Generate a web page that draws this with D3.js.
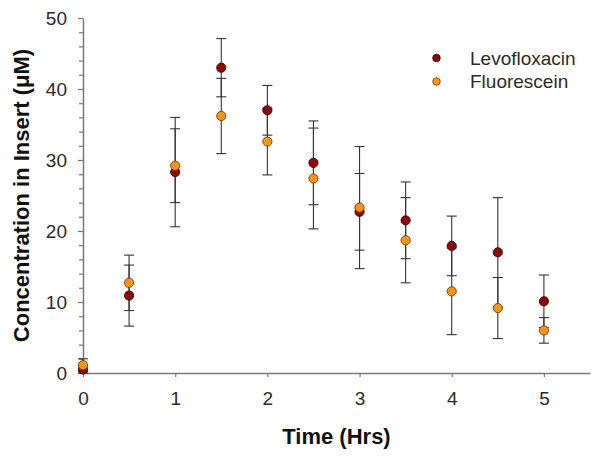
<!DOCTYPE html>
<html><head><meta charset="utf-8">
<script src="https://cdn.jsdelivr.net/npm/d3@7"></script>
<style>
html,body{margin:0;padding:0;background:#fff;}
svg{display:block;font-family:"Liberation Sans",Arial,sans-serif;}
</style></head>
<body><svg id="c" width="600" height="458"></svg>
<script>
const times = [0, 0.5, 1, 1.5, 2, 2.5, 3, 3.5, 4, 4.5, 5];
const levoMean = [0.5, 10.9, 28.3, 43.0, 37.0, 29.6, 22.7, 21.5, 17.9, 17.0, 10.1];
const levoErr  = [0.5, 4.3, 7.7, 4.1, 3.5, 5.9, 5.4, 5.4, 4.2, 7.7, 3.7];
const fluoMean = [1.1, 12.7, 29.2, 36.2, 32.6, 27.4, 23.3, 18.7, 11.5, 9.15, 6.0];
const fluoErr  = [0.9, 3.9, 5.2, 5.3, 4.7, 7.1, 8.6, 6.0, 6.1, 4.3, 1.8];
const seriesNames = ["Levofloxacin", "Fluorescein"];
const xTicks = [0, 1, 2, 3, 4, 5];
const yTicks = [0, 10, 20, 30, 40, 50];
const yMinor = [2,4,6,8,12,14,16,18,22,24,26,28,32,34,36,38,42,44,46,48];

const svg = d3.select("#c");
const x = d3.scaleLinear().domain([0, 5.5]).range([83, 590]);
const y = d3.scaleLinear().domain([0, 50]).range([373, 18]);
const axisCol = "#7a7a7a";

// axes
const gx = svg.append("g").attr("transform", `translate(0,${y(0)})`)
  .call(d3.axisBottom(x).tickValues(xTicks).tickFormat(d3.format("d")).tickSize(4).tickPadding(15).tickSizeOuter(0));
const gy = svg.append("g").attr("transform", `translate(${x(0)},0)`)
  .call(d3.axisLeft(y).tickValues(yTicks).tickSize(5).tickPadding(11).tickSizeOuter(0));
const gym = svg.append("g").attr("transform", `translate(${x(0)},0)`)
  .call(d3.axisLeft(y).tickValues(yMinor).tickSize(4).tickFormat("").tickSizeOuter(0));
gym.select(".domain").remove();
[gx, gy, gym].forEach(g => {
  g.selectAll(".domain").attr("stroke", axisCol).attr("stroke-width", 1.5);
  g.selectAll(".tick line").attr("stroke", axisCol).attr("stroke-width", 1.2);
  g.selectAll(".tick text").attr("fill", "#2a2a2a").style("font-size", "19px")
    .style("font-family", '"Liberation Sans",Arial,sans-serif');
});

// titles
svg.append("text").attr("x", (x(0) + x(5.5)) / 2).attr("y", 443.5)
  .attr("text-anchor", "middle").attr("font-weight", "bold").attr("font-size", 22)
  .attr("fill", "#111").text("Time (Hrs)");
svg.append("text").attr("transform", `translate(28.5,${(y(0) + y(50)) / 2}) rotate(-90)`)
  .attr("text-anchor", "middle").attr("font-weight", "bold").attr("font-size", 22)
  .attr("fill", "#111").text("Concentration in Insert (μM)");

const series = [
  {name: seriesNames[0], mean: levoMean, err: levoErr, fill: "#8c0a0a", stroke: "#3a0505"},
  {name: seriesNames[1], mean: fluoMean, err: fluoErr, fill: "#f7941d", stroke: "#7a3a05"}
];

// error bars
const eb = svg.append("g").attr("stroke", "#333").attr("stroke-width", 1.1);
series.forEach(s => {
  times.forEach((t, i) => {
    const lo = s.mean[i] - s.err[i], hi = s.mean[i] + s.err[i];
    eb.append("line").attr("x1", x(t)).attr("x2", x(t)).attr("y1", y(lo)).attr("y2", y(hi));
    eb.append("line").attr("x1", x(t) - 5).attr("x2", x(t) + 5).attr("y1", y(lo)).attr("y2", y(lo));
    eb.append("line").attr("x1", x(t) - 5).attr("x2", x(t) + 5).attr("y1", y(hi)).attr("y2", y(hi));
  });
});

// points
series.forEach(s => {
  svg.append("g").selectAll("circle").data(times).join("circle")
    .attr("cx", d => x(d)).attr("cy", (d, i) => y(s.mean[i])).attr("r", 4.6)
    .attr("fill", s.fill).attr("stroke", s.stroke).attr("stroke-width", 0.9);
});

// legend
const lg = svg.append("g");
series.forEach((s, i) => {
  const ly = 58 + i * 23.5;
  lg.append("circle").attr("cx", 436.5).attr("cy", ly).attr("r", 3.8)
    .attr("fill", s.fill).attr("stroke", s.stroke).attr("stroke-width", 0.8);
  lg.append("text").attr("x", 470).attr("y", ly).attr("dy", "0.36em")
    .attr("font-size", 19).attr("fill", "#2a2a2a").text(s.name);
});
</script></body></html>
